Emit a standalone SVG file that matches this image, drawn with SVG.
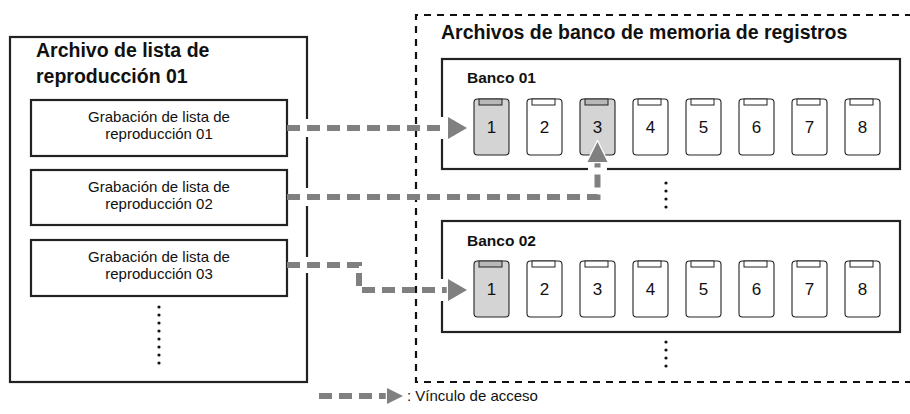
<svg xmlns="http://www.w3.org/2000/svg" width="910" height="414" viewBox="0 0 910 414">
<style>
text{font-family:"Liberation Sans",Arial,sans-serif;fill:#111}
.title{font-size:19.5px;font-weight:bold}
.bank{font-size:15.5px;font-weight:bold}
.rec{font-size:15px;text-anchor:middle}
.num{font-size:17px;text-anchor:middle}
.box{fill:#fff;stroke:#222;stroke-width:2.2}
.card{fill:#fff;stroke:#222;stroke-width:1.1}
.hl{fill:#d4d4d4}
.tab{fill:#fff;stroke:#222;stroke-width:1}
.htab{fill:#b8b8b8}
.link{fill:none;stroke:#808080;stroke-width:6;stroke-dasharray:13 7}
.head{fill:#808080;stroke:#fff;stroke-width:2.5;paint-order:stroke}
.gap{fill:#fff}
.dashbox{fill:none;stroke:#111;stroke-width:2.2;stroke-dasharray:7 6}
</style>
<defs>
<g id="dots4"><circle cx="0" cy="0" r="1.6"/><circle cx="0" cy="8" r="1.6"/><circle cx="0" cy="16" r="1.6"/><circle cx="0" cy="24" r="1.6"/></g>
</defs>

<g id="playlist-file">
<rect class="box" x="10" y="37" width="297" height="345"/>
<text class="title" x="36" y="57">Archivo de lista de</text>
<text class="title" x="36" y="83">reproducción 01</text>
<g fill="#111"><use href="#dots4" x="159" y="307"/><use href="#dots4" x="159" y="339"/></g>
</g>

<g id="rec01">
<rect class="box" x="31" y="100" width="256" height="56"/>
<text class="rec" x="159" y="122">Grabación de lista de</text>
<text class="rec" x="159" y="139">reproducción 01</text>
</g>
<g id="rec02">
<rect class="box" x="31" y="170" width="256" height="55"/>
<text class="rec" x="159" y="192">Grabación de lista de</text>
<text class="rec" x="159" y="209">reproducción 02</text>
</g>
<g id="rec03">
<rect class="box" x="31" y="240" width="256" height="56"/>
<text class="rec" x="159" y="262">Grabación de lista de</text>
<text class="rec" x="159" y="279">reproducción 03</text>
</g>

<g id="bank-files">
<path class="dashbox" d="M912 15 H416 V382 H912"/>
<text class="title" x="441" y="39">Archivos de banco de memoria de registros</text>
<g fill="#111"><use href="#dots4" x="666" y="183"/><use href="#dots4" x="666" y="342"/></g>
</g>

<g id="bank01">
<rect class="box" x="442" y="59" width="458" height="110"/>
<text class="bank" x="467" y="83">Banco 01</text>
<g id="bank01-cards">
<rect class="card hl" x="474" y="99" width="35" height="56" rx="3.5"/><rect class="tab htab" x="479" y="99" width="23" height="6"/><text class="num" x="491.5" y="133">1</text>
<rect class="card" x="527" y="99" width="35" height="56" rx="3.5"/><rect class="tab" x="532" y="99" width="23" height="6"/><text class="num" x="544.5" y="133">2</text>
<rect class="card hl" x="580" y="99" width="35" height="56" rx="3.5"/><rect class="tab htab" x="585" y="99" width="23" height="6"/><text class="num" x="597.5" y="133">3</text>
<rect class="card" x="633" y="99" width="35" height="56" rx="3.5"/><rect class="tab" x="638" y="99" width="23" height="6"/><text class="num" x="650.5" y="133">4</text>
<rect class="card" x="686" y="99" width="35" height="56" rx="3.5"/><rect class="tab" x="691" y="99" width="23" height="6"/><text class="num" x="703.5" y="133">5</text>
<rect class="card" x="739" y="99" width="35" height="56" rx="3.5"/><rect class="tab" x="744" y="99" width="23" height="6"/><text class="num" x="756.5" y="133">6</text>
<rect class="card" x="792" y="99" width="35" height="56" rx="3.5"/><rect class="tab" x="797" y="99" width="23" height="6"/><text class="num" x="809.5" y="133">7</text>
<rect class="card" x="845" y="99" width="35" height="56" rx="3.5"/><rect class="tab" x="850" y="99" width="23" height="6"/><text class="num" x="862.5" y="133">8</text>
</g>
</g>

<g id="bank02">
<rect class="box" x="442" y="221" width="458" height="111"/>
<text class="bank" x="467" y="246">Banco 02</text>
<g id="bank02-cards">
<rect class="card hl" x="474" y="261" width="35" height="56" rx="3.5"/><rect class="tab htab" x="479" y="261" width="23" height="6"/><text class="num" x="491.5" y="295">1</text>
<rect class="card" x="527" y="261" width="35" height="56" rx="3.5"/><rect class="tab" x="532" y="261" width="23" height="6"/><text class="num" x="544.5" y="295">2</text>
<rect class="card" x="580" y="261" width="35" height="56" rx="3.5"/><rect class="tab" x="585" y="261" width="23" height="6"/><text class="num" x="597.5" y="295">3</text>
<rect class="card" x="633" y="261" width="35" height="56" rx="3.5"/><rect class="tab" x="638" y="261" width="23" height="6"/><text class="num" x="650.5" y="295">4</text>
<rect class="card" x="686" y="261" width="35" height="56" rx="3.5"/><rect class="tab" x="691" y="261" width="23" height="6"/><text class="num" x="703.5" y="295">5</text>
<rect class="card" x="739" y="261" width="35" height="56" rx="3.5"/><rect class="tab" x="744" y="261" width="23" height="6"/><text class="num" x="756.5" y="295">6</text>
<rect class="card" x="792" y="261" width="35" height="56" rx="3.5"/><rect class="tab" x="797" y="261" width="23" height="6"/><text class="num" x="809.5" y="295">7</text>
<rect class="card" x="845" y="261" width="35" height="56" rx="3.5"/><rect class="tab" x="850" y="261" width="23" height="6"/><text class="num" x="862.5" y="295">8</text>
</g>
</g>

<g id="connectors">
<rect class="gap" x="304" y="119" width="6" height="18"/>
<rect class="gap" x="304" y="188" width="6" height="18"/>
<rect class="gap" x="304" y="257" width="6" height="16"/>
<rect class="gap" x="439" y="117" width="6" height="22"/>
<rect class="gap" x="439" y="279" width="6" height="22"/>
<rect class="gap" x="588" y="166" width="19" height="6"/>
<path class="link" d="M287 128 H448"/>
<polygon class="head" points="448,117 467,128 448,139"/>
<path class="link" d="M287 197 H597.5 V162"/>
<polygon class="head" points="587.5,162 597.5,142 607.5,162"/>
<path class="link" d="M287 265 H359 V290 H448"/>
<polygon class="head" points="448,279 467,290 448,301"/>
</g>

<g id="legend">
<path class="link" d="M319 396 H387"/>
<polygon class="head" points="387,388 403,396 387,404" stroke-width="0"/>
<text x="407" y="401" style="font-size:15px">: Vínculo de acceso</text>
</g>
</svg>
